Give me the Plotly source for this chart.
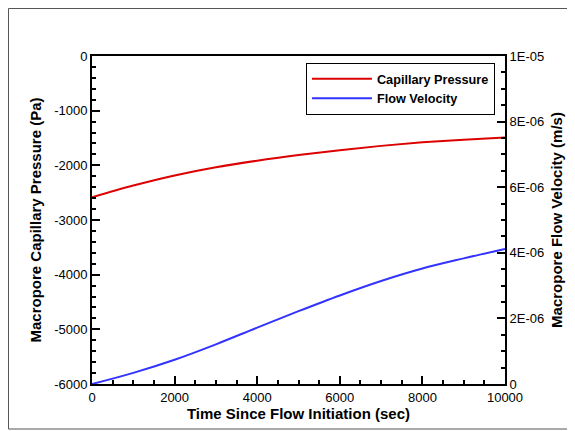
import plotly.graph_objects as go

time_s = [0, 1000, 2000, 3000, 4000, 5000, 6000, 7000, 8000, 9000, 10000]
capillary_pressure = [-2585, -2370, -2185, -2035, -1915, -1812, -1722, -1644, -1580, -1530, -1490]
flow_velocity = [0.0, 0.34e-6, 0.74e-6, 1.21e-6, 1.72e-6, 2.22e-6, 2.70e-6, 3.14e-6, 3.52e-6, 3.83e-6, 4.12e-6]

left_tickvals = [0, -1000, -2000, -3000, -4000, -5000, -6000]
left_ticktext = ["0", "-1000", "-2000", "-3000", "-4000", "-5000", "-6000"]
right_tickvals = [0, 2e-6, 4e-6, 6e-6, 8e-6, 1e-5]
right_ticktext = ["0", "2E-06", "4E-06", "6E-06", "8E-06", "1E-05"]
x_tickvals = [0, 2000, 4000, 6000, 8000, 10000]
x_ticktext = ["0", "2000", "4000", "6000", "8000", "10000"]

FONT = "Arial, Liberation Sans, sans-serif"

fig = go.Figure()
fig.add_trace(go.Scatter(x=time_s, y=capillary_pressure, mode="lines", name="Capillary Pressure",
                         line=dict(color="#dd0000", width=2, shape="spline"), yaxis="y"))
fig.add_trace(go.Scatter(x=time_s, y=flow_velocity, mode="lines", name="Flow Velocity",
                         line=dict(color="#3333ff", width=2, shape="spline"), yaxis="y2"))

axis_common = dict(showline=True, linecolor="black", linewidth=2, ticks="inside", ticklen=8,
                   tickwidth=2, tickcolor="black", showgrid=False, zeroline=False,
                   tickfont=dict(family=FONT, size=13, color="black"))

fig.update_layout(
    width=567, height=423,
    margin=dict(l=84, r=70, t=48, b=47),
    paper_bgcolor="white", plot_bgcolor="white",
    font=dict(family=FONT, color="black"),
    showlegend=True,
    legend=dict(x=0.518, y=0.979, xanchor="left", yanchor="top",
                bordercolor="black", borderwidth=1, bgcolor="white",
                font=dict(family=FONT, size=12.7, color="black", weight="bold"),
                tracegroupgap=0, itemwidth=60),
    xaxis=dict(range=[0, 10000], tickvals=x_tickvals, ticktext=x_ticktext, mirror=True,
               minor=dict(dtick=500, ticks="inside", ticklen=4, tickwidth=1.5, tickcolor="black"),
               title=dict(text="<b>Time Since Flow Initiation (sec)</b>", standoff=1,
                          font=dict(family=FONT, size=15, color="black")),
               **axis_common),
    yaxis=dict(range=[-6000, 0], tickvals=left_tickvals, ticktext=left_ticktext,
               minor=dict(dtick=200, ticks="inside", ticklen=4, tickwidth=1.5, tickcolor="black"),
               title=dict(text="<b>Macropore Capillary Pressure (Pa)</b>", standoff=9,
                          font=dict(family=FONT, size=15, color="black")),
               **axis_common),
    yaxis2=dict(range=[0, 1e-5], overlaying="y", side="right", tickvals=right_tickvals,
                ticktext=right_ticktext,
                minor=dict(dtick=5e-7, ticks="inside", ticklen=4, tickwidth=1.5, tickcolor="black"),
                title=dict(text="<b>Macropore Flow Velocity (m/s)</b>", standoff=8,
                           font=dict(family=FONT, size=15, color="black")),
                **axis_common),
    shapes=[dict(type="rect", xref="paper", yref="paper", x0=-0.2022, x1=1.3, y0=-0.1372, y1=1.1448,
                 line=dict(color="#555555", width=1), layer="below")],
)

fig.write_html("out.html")
